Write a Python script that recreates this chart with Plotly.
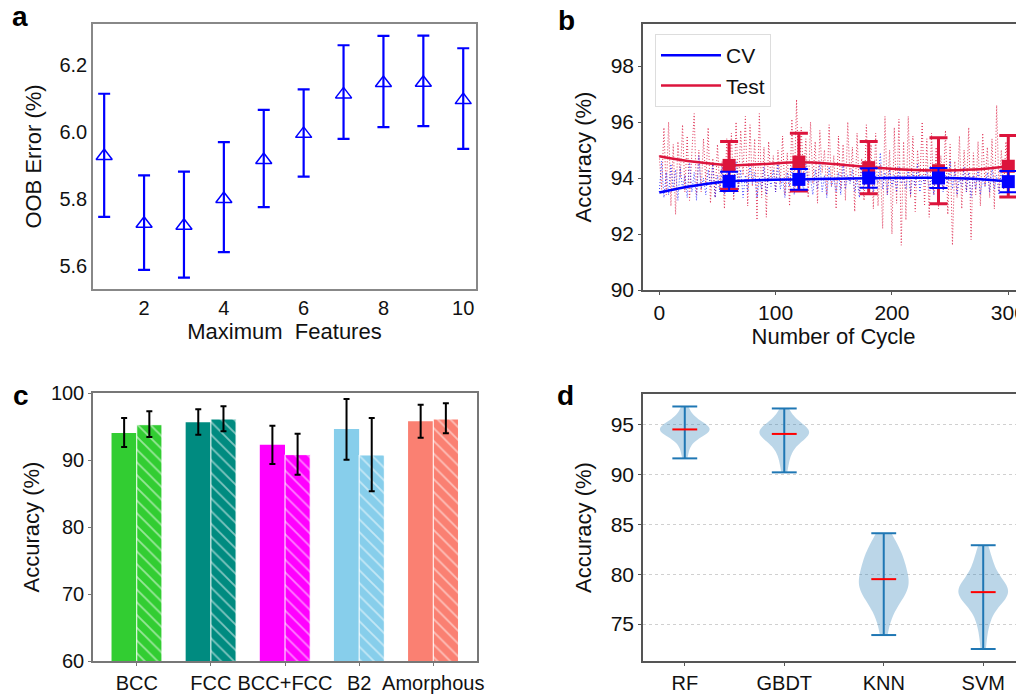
import numpy as np
import plotly.graph_objects as go

# ---- panel a: OOB error vs max features
max_features = [1, 2, 3, 4, 5, 6, 7, 8, 9, 10]
oob_error = [5.928, 5.725, 5.719, 5.799, 5.916, 5.994, 6.112, 6.146, 6.147, 6.095]
oob_upper = [6.114, 5.870, 5.881, 5.969, 6.066, 6.127, 6.259, 6.287, 6.288, 6.250]
oob_lower = [5.746, 5.587, 5.564, 5.640, 5.775, 5.866, 5.979, 6.014, 6.017, 5.949]

# ---- panel b: accuracy over cycles (every 2nd cycle)
test_acc = [94.8, 93.6, 95.8, 93.4, 96.0, 93.0, 95.2, 92.7, 95.3, 94.0, 95.9, 93.5, 95.5, 93.2, 94.9, 96.3,
            93.4, 95.0, 93.5, 95.4, 93.8, 95.8, 93.1, 94.7, 93.3, 95.2, 93.6, 94.6, 92.9, 95.4, 94.0, 95.6,
            93.2, 96.0, 93.5, 95.7, 94.1, 96.2, 93.0, 95.9, 93.7, 95.4, 92.5, 96.3, 93.3, 95.1, 92.6, 95.3,
            93.9, 94.8, 93.5, 95.0, 93.8, 95.5, 93.4, 94.9, 93.0, 96.1, 93.6, 96.8, 93.5, 95.8, 94.0, 95.4,
            93.3, 96.0, 93.8, 95.3, 93.1, 95.7, 94.2, 95.0, 93.4, 95.9, 93.7, 94.8, 92.9, 95.5, 93.6, 95.2,
            93.2, 96.0, 93.9, 95.1, 92.8, 95.6, 93.5, 94.7, 93.2, 95.9, 93.6, 95.2, 92.9, 95.6, 93.0, 94.5,
            92.2, 96.2, 93.4, 95.0, 92.0, 95.8, 93.1, 96.1, 91.6, 95.3, 92.5, 96.2, 93.3, 95.5, 92.8, 95.0,
            93.9, 96.0, 93.0, 95.4, 92.6, 95.6, 93.4, 95.1, 92.9, 94.8, 93.6, 95.7, 92.7, 95.2, 91.6, 94.6,
            93.3, 95.5, 92.9, 95.0, 93.5, 95.8, 91.8, 94.9, 93.4, 95.3, 93.0, 95.6, 93.7, 95.1, 93.3, 95.4,
            92.9, 96.6, 93.5, 95.0, 93.6, 95.3, 94.0]
cv_acc = [93.5, 94.6, 93.3, 94.2, 93.4, 94.5, 93.6, 94.3, 93.2, 94.4, 93.6, 94.1, 93.3, 94.6, 93.5, 94.2,
          93.2, 94.8, 93.6, 94.0, 93.4, 94.3, 93.7, 94.5, 93.3, 94.1, 93.5, 94.4, 93.4, 94.2, 93.7, 94.0,
          93.4, 94.6, 93.6, 94.3, 93.3, 94.1, 93.5, 94.5, 93.8, 94.2, 93.3, 94.0, 93.6, 94.4, 93.4, 94.1,
          93.7, 94.3, 93.5, 94.6, 93.6, 94.0, 93.3, 94.2, 93.7, 94.4, 93.4, 94.1, 93.6, 94.3, 93.5, 94.5,
          93.8, 94.0, 93.4, 94.3, 93.6, 94.6, 93.5, 94.1, 93.3, 94.4, 93.7, 94.0, 93.5, 94.2, 93.4, 94.5,
          93.6, 94.1, 93.8, 94.3, 93.5, 94.0, 93.3, 94.4, 93.7, 94.2, 93.6, 94.5, 93.5, 94.1, 93.8, 94.9,
          93.6, 94.2, 93.4, 94.3, 93.7, 94.1, 93.5, 94.4, 93.8, 94.0, 93.6, 94.3, 93.4, 94.2, 93.7, 94.5,
          93.5, 94.1, 93.8, 94.3, 93.6, 94.0, 93.4, 94.4, 93.7, 94.2, 93.5, 94.1, 93.8, 94.6, 93.6, 94.3,
          93.4, 94.0, 93.7, 94.4, 93.5, 94.2, 93.3, 94.1, 93.6, 94.3, 93.4, 94.0, 93.7, 94.2, 93.5, 94.4,
          93.6, 94.1, 93.4, 94.3, 93.6, 94.0, 93.8]
trend_cycle = [0, 30, 60, 90, 120, 150, 180, 210, 240, 270, 300]
test_trend = [94.78, 94.58, 94.46, 94.50, 94.56, 94.50, 94.39, 94.30, 94.27, 94.30, 94.42]
cv_trend = [93.48, 93.72, 93.88, 93.93, 93.95, 93.97, 93.99, 94.01, 94.01, 93.97, 93.88]
mark_cycle = [60, 120, 180, 240, 300]
test_mean = [94.45, 94.57, 94.37, 94.26, 94.42]
test_err = [0.85, 1.03, 0.93, 1.18, 1.10]
cv_mean = [93.88, 93.95, 94.00, 94.00, 93.87]
cv_err = [0.34, 0.37, 0.35, 0.36, 0.38]

# ---- panel c: accuracy by phase
phases = ["BCC", "FCC", "BCC+FCC", "B2", "Amorphous"]
phase_colors = ["#32CD32", "#008B80", "#FF00FF", "#87CEEB", "#FA8072"]
cv_phase = [94.03, 95.62, 92.29, 94.63, 95.77]
cv_phase_hi = [96.27, 97.56, 95.12, 99.10, 98.26]
cv_phase_lo = [91.94, 93.78, 89.40, 90.05, 93.33]
test_phase = [95.27, 96.12, 90.80, 90.75, 96.12]
test_phase_hi = [97.26, 98.01, 93.93, 96.27, 98.46]
test_phase_lo = [93.43, 94.28, 87.81, 85.32, 93.98]

# ---- panel d: accuracy distribution per model
models = ["RF", "GBDT", "KNN", "SVM"]
rf_acc = [91.6, 92.4, 93.0, 93.4, 93.7, 93.9, 94.1, 94.2, 94.3, 94.4, 94.4, 94.5, 94.5,
          94.5, 94.6, 94.6, 94.7, 94.8, 94.9, 95.1, 95.3, 95.5, 95.8, 96.2, 96.8]
gbdt_acc = [90.2, 91.1, 91.8, 92.3, 92.7, 93.0, 93.3, 93.5, 93.7, 93.85, 93.95, 94.0, 94.05,
            94.2, 94.3, 94.4, 94.5, 94.6, 94.7, 94.8, 95.0, 95.3, 95.6, 96.0, 96.6]
knn_acc = [73.9, 75.5, 76.3, 76.9, 77.4, 77.8, 78.1, 78.4, 78.6, 78.8, 79.0, 79.2, 79.5,
           79.8, 80.1, 80.4, 80.8, 81.1, 81.4, 81.7, 82.0, 82.4, 82.9, 83.4, 84.1]
svm_acc = [72.5, 74.2, 75.2, 75.9, 76.5, 77.0, 77.4, 77.7, 77.9, 78.0, 78.1, 78.15, 78.2,
           78.3, 78.5, 78.7, 79.0, 79.3, 79.6, 80.0, 80.4, 80.9, 81.5, 82.1, 82.9]
model_acc = [rf_acc, gbdt_acc, knn_acc, svm_acc]
kde_bw = [0.65, 0.72, 1.2, 1.1]

FONT = "Liberation Sans, Arial, sans-serif"
# the page body has an 8px margin, so the figure is 8px smaller than the window
W, H, OFF = 1016, 686, 8


def dom_x(left, right):
    return [(left - OFF) / W, (right - OFF) / W]


def dom_y(top, bottom):
    return [1 - (bottom - OFF) / H, 1 - (top - OFF) / H]


fig = go.Figure()

# a
fig.add_trace(go.Scatter(
    x=max_features, y=oob_error, mode="markers", showlegend=False,
    marker=dict(symbol="triangle-up-open", size=14, color="blue", line=dict(width=1.5, color="blue")),
    error_y=dict(type="data", symmetric=False,
                 array=[u - m for u, m in zip(oob_upper, oob_error)],
                 arrayminus=[m - l for m, l in zip(oob_error, oob_lower)],
                 color="blue", thickness=2.2, width=6),
    xaxis="x", yaxis="y"))

# b
cycles = [2 * i for i in range(len(test_acc))]
fig.add_trace(go.Scatter(x=cycles, y=test_acc, mode="lines", showlegend=False, opacity=0.85,
                         line=dict(color="#DC143C", width=1, dash="1px,2px"), xaxis="x2", yaxis="y2"))
fig.add_trace(go.Scatter(x=cycles, y=cv_acc, mode="lines", showlegend=False, opacity=0.75,
                         line=dict(color="blue", width=1, dash="1px,2px"), xaxis="x2", yaxis="y2"))
fig.add_trace(go.Scatter(x=trend_cycle, y=cv_trend, mode="lines", name="CV",
                         line=dict(color="blue", width=2.5, shape="spline"), xaxis="x2", yaxis="y2"))
fig.add_trace(go.Scatter(x=trend_cycle, y=test_trend, mode="lines", name="Test",
                         line=dict(color="#DC143C", width=2.5, shape="spline"), xaxis="x2", yaxis="y2"))
fig.add_trace(go.Scatter(x=mark_cycle, y=test_mean, mode="markers", showlegend=False,
                         marker=dict(symbol="square", size=13, color="#DC143C"),
                         error_y=dict(type="data", array=test_err, color="#DC143C", thickness=3, width=9),
                         xaxis="x2", yaxis="y2"))
fig.add_trace(go.Scatter(x=mark_cycle, y=cv_mean, mode="markers", showlegend=False,
                         marker=dict(symbol="square", size=13, color="blue"),
                         error_y=dict(type="data", array=cv_err, color="blue", thickness=2, width=9),
                         xaxis="x2", yaxis="y2"))

# c: one trace per phase so the hatch keeps a white foreground
for i, ph in enumerate(phases):
    fig.add_trace(go.Bar(
        x=[ph], y=[cv_phase[i]], name="CV", showlegend=False, offsetgroup="cv",
        marker=dict(color=phase_colors[i], line=dict(width=0)),
        error_y=dict(type="data", symmetric=False, array=[cv_phase_hi[i] - cv_phase[i]],
                     arrayminus=[cv_phase[i] - cv_phase_lo[i]], color="black", thickness=2, width=3),
        xaxis="x3", yaxis="y3"))
    fig.add_trace(go.Bar(
        x=[ph], y=[test_phase[i]], name="Test", showlegend=False, offsetgroup="test",
        marker=dict(color=phase_colors[i], line=dict(width=1, color="white"),
                    pattern=dict(shape="\\", fgcolor="white", bgcolor=phase_colors[i],
                                 size=9, solidity=0.2)),
        error_y=dict(type="data", symmetric=False, array=[test_phase_hi[i] - test_phase[i]],
                     arrayminus=[test_phase[i] - test_phase_lo[i]], color="black", thickness=2, width=3),
        xaxis="x3", yaxis="y3"))

# d
for i, acc in enumerate(model_acc):
    fig.add_trace(go.Violin(
        x=[i] * len(acc), y=acc, name=models[i], showlegend=False, bandwidth=kde_bw[i],
        width=0.5, spanmode="hard", points=False, box_visible=False, meanline_visible=False,
        fillcolor="rgba(31,119,180,0.3)", line=dict(width=0, color="rgba(31,119,180,0)"),
        hoverinfo="skip", xaxis="x4", yaxis="y4"))

stem_x, stem_y, med_x, med_y = [], [], [], []
for i, acc in enumerate(model_acc):
    lo, hi, med = float(np.min(acc)), float(np.max(acc)), float(np.median(acc))
    stem_x += [i, i, None, i - 0.125, i + 0.125, None, i - 0.125, i + 0.125, None]
    stem_y += [lo, hi, None, lo, lo, None, hi, hi, None]
    med_x += [i - 0.125, i + 0.125, None]
    med_y += [med, med, None]
fig.add_trace(go.Scatter(x=stem_x, y=stem_y, mode="lines", showlegend=False,
                         line=dict(color="#1f77b4", width=2), xaxis="x4", yaxis="y4"))
fig.add_trace(go.Scatter(x=med_x, y=med_y, mode="lines", showlegend=False,
                         line=dict(color="red", width=2), xaxis="x4", yaxis="y4"))


def ax(domain, anchor, color, fsize=20, **kw):
    d = dict(domain=domain, anchor=anchor, showline=True, mirror=True, linecolor=color,
             linewidth=1.5, ticks="outside", ticklen=3, tickcolor=color,
             tickfont=dict(family=FONT, size=fsize, color="#111"),
             showgrid=False, zeroline=False, automargin=False)
    d.update(kw)
    return d


def ttl(text, standoff):
    return dict(text=text, font=dict(family=FONT, size=22, color="#111"), standoff=standoff)


fig.update_layout(
    width=W, height=H, margin=dict(l=0, r=0, t=0, b=0),
    paper_bgcolor="white", plot_bgcolor="white",
    barmode="group", bargap=0.32, bargroupgap=0,
    font=dict(family=FONT, color="#111"),
    xaxis=ax(dom_x(93, 476), "y", "#888", ticks="", range=[0.72, 10.32], tickvals=[2, 4, 6, 8, 10],
             title=ttl("Maximum  Features", 6)),
    yaxis=ax(dom_y(24, 289), "x", "#888", ticks="", range=[5.530, 6.3226], tickvals=[5.6, 5.8, 6.0, 6.2],
             tickformat=".1f", title=ttl("OOB Error (%)", 12)),
    xaxis2=ax(dom_x(643, 1024), "y2", "#555", 21, range=[-14, 313.5], tickvals=[0, 100, 200, 300],
              ticklabeloverflow="allow", title=ttl("Number of Cycle", 2)),
    yaxis2=ax(dom_y(24, 290), "x2", "#555", 21, range=[90, 99.5], tickvals=[90, 92, 94, 96, 98],
              title=ttl("Accuracy (%)", 13)),
    xaxis3=ax(dom_x(93, 477), "y3", "#777", range=[-0.59, 4.59]),
    yaxis3=ax(dom_y(393, 661), "x3", "#777", range=[60, 100], tickvals=[60, 70, 80, 90, 100],
              title=ttl("Accuracy (%)", 5)),
    xaxis4=ax(dom_x(643, 1024), "y4", "#555", 20, range=[-0.42, 3.41], tickvals=[0, 1, 2, 3],
              ticktext=models, ticklabeloverflow="allow"),
    yaxis4=ax(dom_y(394, 661), "x4", "#555", 21, range=[71.3, 98.05], tickvals=[75, 80, 85, 90, 95],
              showgrid=True, gridcolor="#d0d0d0", griddash="dot", gridwidth=1,
              title=ttl("Accuracy (%)", 13)),
    legend=dict(x=(655 - OFF) / W, y=1 - (34 - OFF) / H, xanchor="left", yanchor="top", bgcolor="white",
                bordercolor="#dddddd", borderwidth=1, font=dict(family=FONT, size=21, color="#111"),
                itemwidth=60, tracegroupgap=0),
)

for letter, px, baseline in [("a", 10, 28), ("b", 556, 32), ("c", 11, 407), ("d", 555, 407)]:
    fig.add_annotation(text="<b>%s</b>" % letter, xref="paper", yref="paper",
                       x=(px - OFF) / W, y=1 - (baseline + 6 - OFF) / H, xanchor="left", yanchor="bottom",
                       showarrow=False, font=dict(family=FONT, size=28, color="black"))

fig.write_html("out.html")
